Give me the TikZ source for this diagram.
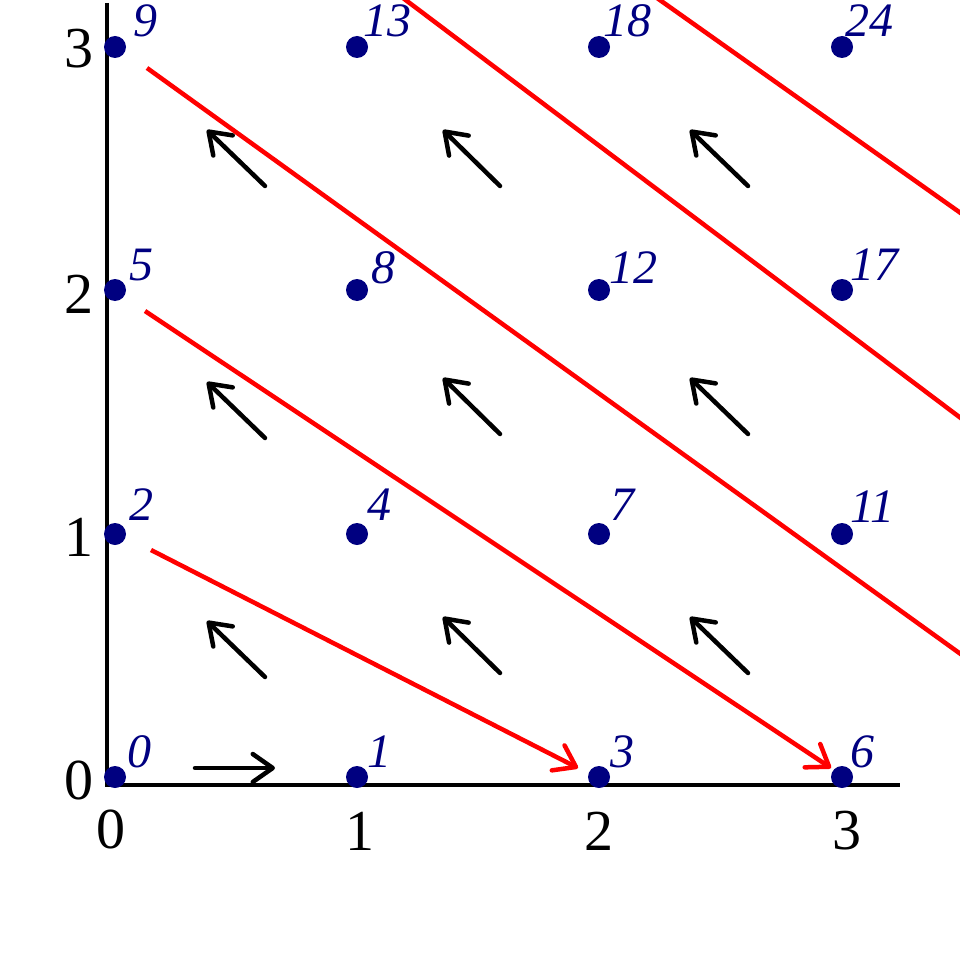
\documentclass[tikz,border=0pt]{standalone}
\usepackage{fontspec}
\setmainfont{Liberation Serif}
\usetikzlibrary{arrows.meta}
\definecolor{navy}{RGB}{0,0,128}
\definecolor{pathred}{RGB}{255,0,0}
\tikzset{
  dot/.style={circle, fill=navy, inner sep=0pt, minimum size=22pt},
  lab/.style={text=navy, font=\fontsize{48}{48}\selectfont\itshape, inner sep=0pt, anchor=base west},
  axlab/.style={font=\fontsize{58}{58}\selectfont, inner sep=0pt},
  axisline/.style={line width=4.2pt},
  move/.style={line width=4.5pt, line cap=round, -{Straight Barb[length=20pt,width=28pt,round]}},
  redpath/.style={pathred, line width=4.5pt, -{Straight Barb[length=20pt,width=28pt,round]}},
  redline/.style={pathred, line width=4.5pt},
}
\begin{document}
\begin{tikzpicture}[x=1pt,y=-1pt]
\useasboundingbox (0,0) rectangle (960,952);
% axes
\coordinate (ytop) at (107,3);
\coordinate (origin) at (107,785);
\coordinate (xend) at (900,785);
\draw[axisline] (ytop) -- (107,787);
\draw[axisline] (105,785) -- (xend);
% axis labels
\node[axlab, anchor=east] (ya0) at (94,780) {0};
\node[axlab, anchor=east] (ya1) at (94,537) {1};
\node[axlab, anchor=east] (ya2) at (94,294) {2};
\node[axlab, anchor=east] (ya3) at (94,49) {3};
\node[axlab] (xa0) at (111,829) {0};
\node[axlab] (xa1) at (360,831) {1};
\node[axlab] (xa2) at (599,831) {2};
\node[axlab] (xa3) at (847,831) {3};
% black move arrows
\coordinate (h0) at (195,768); \coordinate (h1) at (275,768);
\draw[move] (h0) -- (h1);
\coordinate (a11) at (265,677); \coordinate (b11) at (207,621);
\coordinate (a12) at (500,673); \coordinate (b12) at (443,617);
\coordinate (a13) at (748,673); \coordinate (b13) at (690,617);
\coordinate (a21) at (265,438); \coordinate (b21) at (207,382);
\coordinate (a22) at (500,434); \coordinate (b22) at (443,378);
\coordinate (a23) at (748,434); \coordinate (b23) at (690,378);
\coordinate (a31) at (265,186); \coordinate (b31) at (207,130);
\coordinate (a32) at (500,186); \coordinate (b32) at (443,130);
\coordinate (a33) at (748,186); \coordinate (b33) at (690,130);
\foreach \r in {1,2,3}{\foreach \c in {1,2,3}{\draw[move] (a\r\c) -- (b\r\c);}}
% red paths
\coordinate (r1s) at (151,550); \coordinate (r1e) at (578,768);
\coordinate (r2s) at (145,311); \coordinate (r2e) at (831,768);
\coordinate (r3s) at (147,68);  \coordinate (r3e) at (962,655);
\coordinate (r4s) at (403,-2);  \coordinate (r4e) at (962,419);
\coordinate (r5s) at (657,-2);  \coordinate (r5e) at (962,214);
\draw[redpath] (r1s) -- (r1e);
\draw[redpath] (r2s) -- (r2e);
\begin{scope}
\clip (0,0) rectangle (960,952);
\draw[redline] (r3s) -- (r3e);
\draw[redline] (r4s) -- (r4e);
\draw[redline] (r5s) -- (r5e);
\end{scope}
% dots
\node[dot] (p00) at (115,777) {};
\node[dot] (p10) at (357,777) {};
\node[dot] (p20) at (599,777) {};
\node[dot] (p30) at (842,777) {};
\node[dot] (p01) at (115,534) {};
\node[dot] (p11) at (357,534) {};
\node[dot] (p21) at (599,534) {};
\node[dot] (p31) at (842,534) {};
\node[dot] (p02) at (115,290) {};
\node[dot] (p12) at (357,290) {};
\node[dot] (p22) at (599,290) {};
\node[dot] (p32) at (842,290) {};
\node[dot] (p03) at (115,47) {};
\node[dot] (p13) at (357,47) {};
\node[dot] (p23) at (599,47) {};
\node[dot] (p33) at (842,47) {};
% labels
\node[lab] (l00) at (127,767) {0};
\node[lab] (l10) at (367,767) {1};
\node[lab] (l20) at (610,767) {3};
\node[lab] (l30) at (850,767) {6};
\node[lab] (l01) at (129,520) {2};
\node[lab] (l11) at (367,520) {4};
\node[lab] (l21) at (610,520) {7};
\node[lab] (l31) at (850,522) {11};
\node[lab] (l02) at (129,280) {5};
\node[lab] (l12) at (371,283) {8};
\node[lab] (l22) at (609,283) {12};
\node[lab] (l32) at (850,280) {17};
\node[lab] (l03) at (133,37) {9};
\node[lab] (l13) at (363,37) {13};
\node[lab] (l23) at (603,37) {18};
\node[lab] (l33) at (845,37) {24};
\end{tikzpicture}
\end{document}
